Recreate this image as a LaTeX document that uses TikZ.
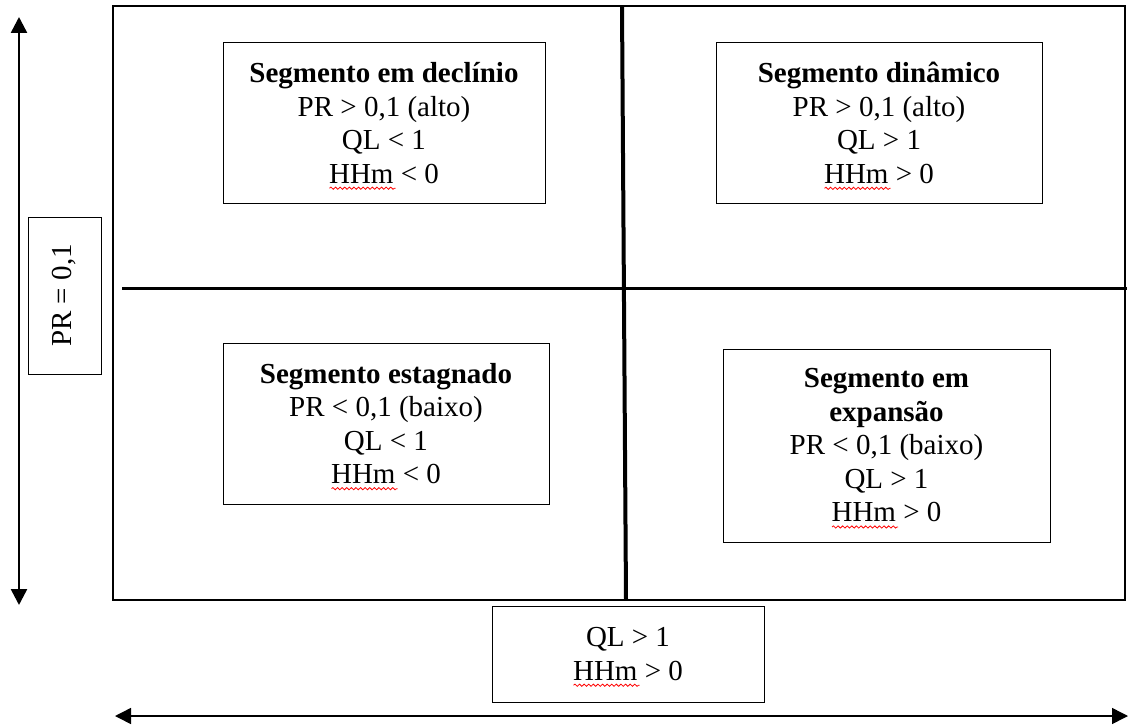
\documentclass[border=0pt]{standalone}
\usepackage{fontspec}
\setmainfont{Liberation Serif}
\usepackage{xcolor}
\usepackage{tikz}
\usetikzlibrary{arrows.meta,positioning,decorations.pathmorphing}
% red wavy mark of the spell checker
\newsavebox{\spellwave}
\newcommand{\hhm}{\rlap{\smash{\raisebox{-6.5pt}{\usebox{\spellwave}}}}HHm}
\tikzset{
	quad text/.style={font=\fontsize{29pt}{33.5pt}\selectfont},
	seg box/.style={draw, line width=1pt, inner sep=0pt, outer sep=0pt,
		align=center, quad text},
	plane/.style={draw, line width=2.5pt, inner sep=0pt, outer sep=0pt},
	divider/.style={line width=#1},
	divider/.default=3pt,
	axis arrow/.style={line width=#1, {Triangle[length=16pt,width=16pt]}-{Triangle[length=16pt,width=16pt]}},
	axis arrow/.default=2.5pt
}

\begin{document}%
\sbox{\spellwave}{\tikz\draw[red, line width=0.8pt, decorate,
	decoration={snake, amplitude=1.1pt, segment length=4.6pt}] (0pt,0pt) -- (66pt,0pt);}%
\begin{tikzpicture}[x=1pt,y=-1pt]
	\useasboundingbox (0,0) rectangle (1129,725);
	\node[plane, minimum width=1012, minimum height=594] (P) at (619,303) {};
	% quadrant lines
	\coordinate (vtop) at (622,6);
	\coordinate (vbot) at (626,600);
	\coordinate (hleft) at (122,288);
	\coordinate (hright) at (1127,288);
	\draw[divider=4pt] (vtop) -- (vbot);
	\draw[divider] (hleft) -- (hright);
	% the four segments
	\node[seg box, minimum width=322, minimum height=160] (decl) at (384,123)
		{\textbf{Segmento em declínio}\\ PR > 0,1 (alto)\\ QL < 1\\ \hhm{} < 0};
	\node[seg box, minimum width=326, minimum height=160] (dyn) at (879,123)
		{\textbf{Segmento dinâmico}\\ PR > 0,1 (alto)\\ QL > 1\\ \hhm{} > 0};
	\node[seg box, minimum width=326, minimum height=161] (stag) at (386,423.5)
		{\textbf{Segmento estagnado}\\ PR < 0,1 (baixo)\\ QL < 1\\ \hhm{} < 0};
	\node[seg box, minimum width=327, minimum height=193] (exp) at (886.5,445.5)
		{\textbf{Segmento em}\\ \textbf{expansão}\\ PR < 0,1 (baixo)\\ QL > 1\\ \hhm{} > 0};
	% axis labels
	\node[seg box, rotate=90, minimum width=157, minimum height=73] (prlab) at (64.5,295.5)
		{PR = 0,1};
	\node[seg box, minimum width=272, minimum height=96] (qllab) at (628,654)
		{QL > 1\\ \hhm{} > 0};
	% axes
	\coordinate (ytop) at (19,17);
	\coordinate (ybot) at (19,605);
	\coordinate (xleft) at (115,716);
	\coordinate (xright) at (1128,716);
	\draw[axis arrow] (ytop) -- (ybot);
	\draw[axis arrow=1.5pt] (xleft) -- (xright);
\end{tikzpicture}%
\end{document}
